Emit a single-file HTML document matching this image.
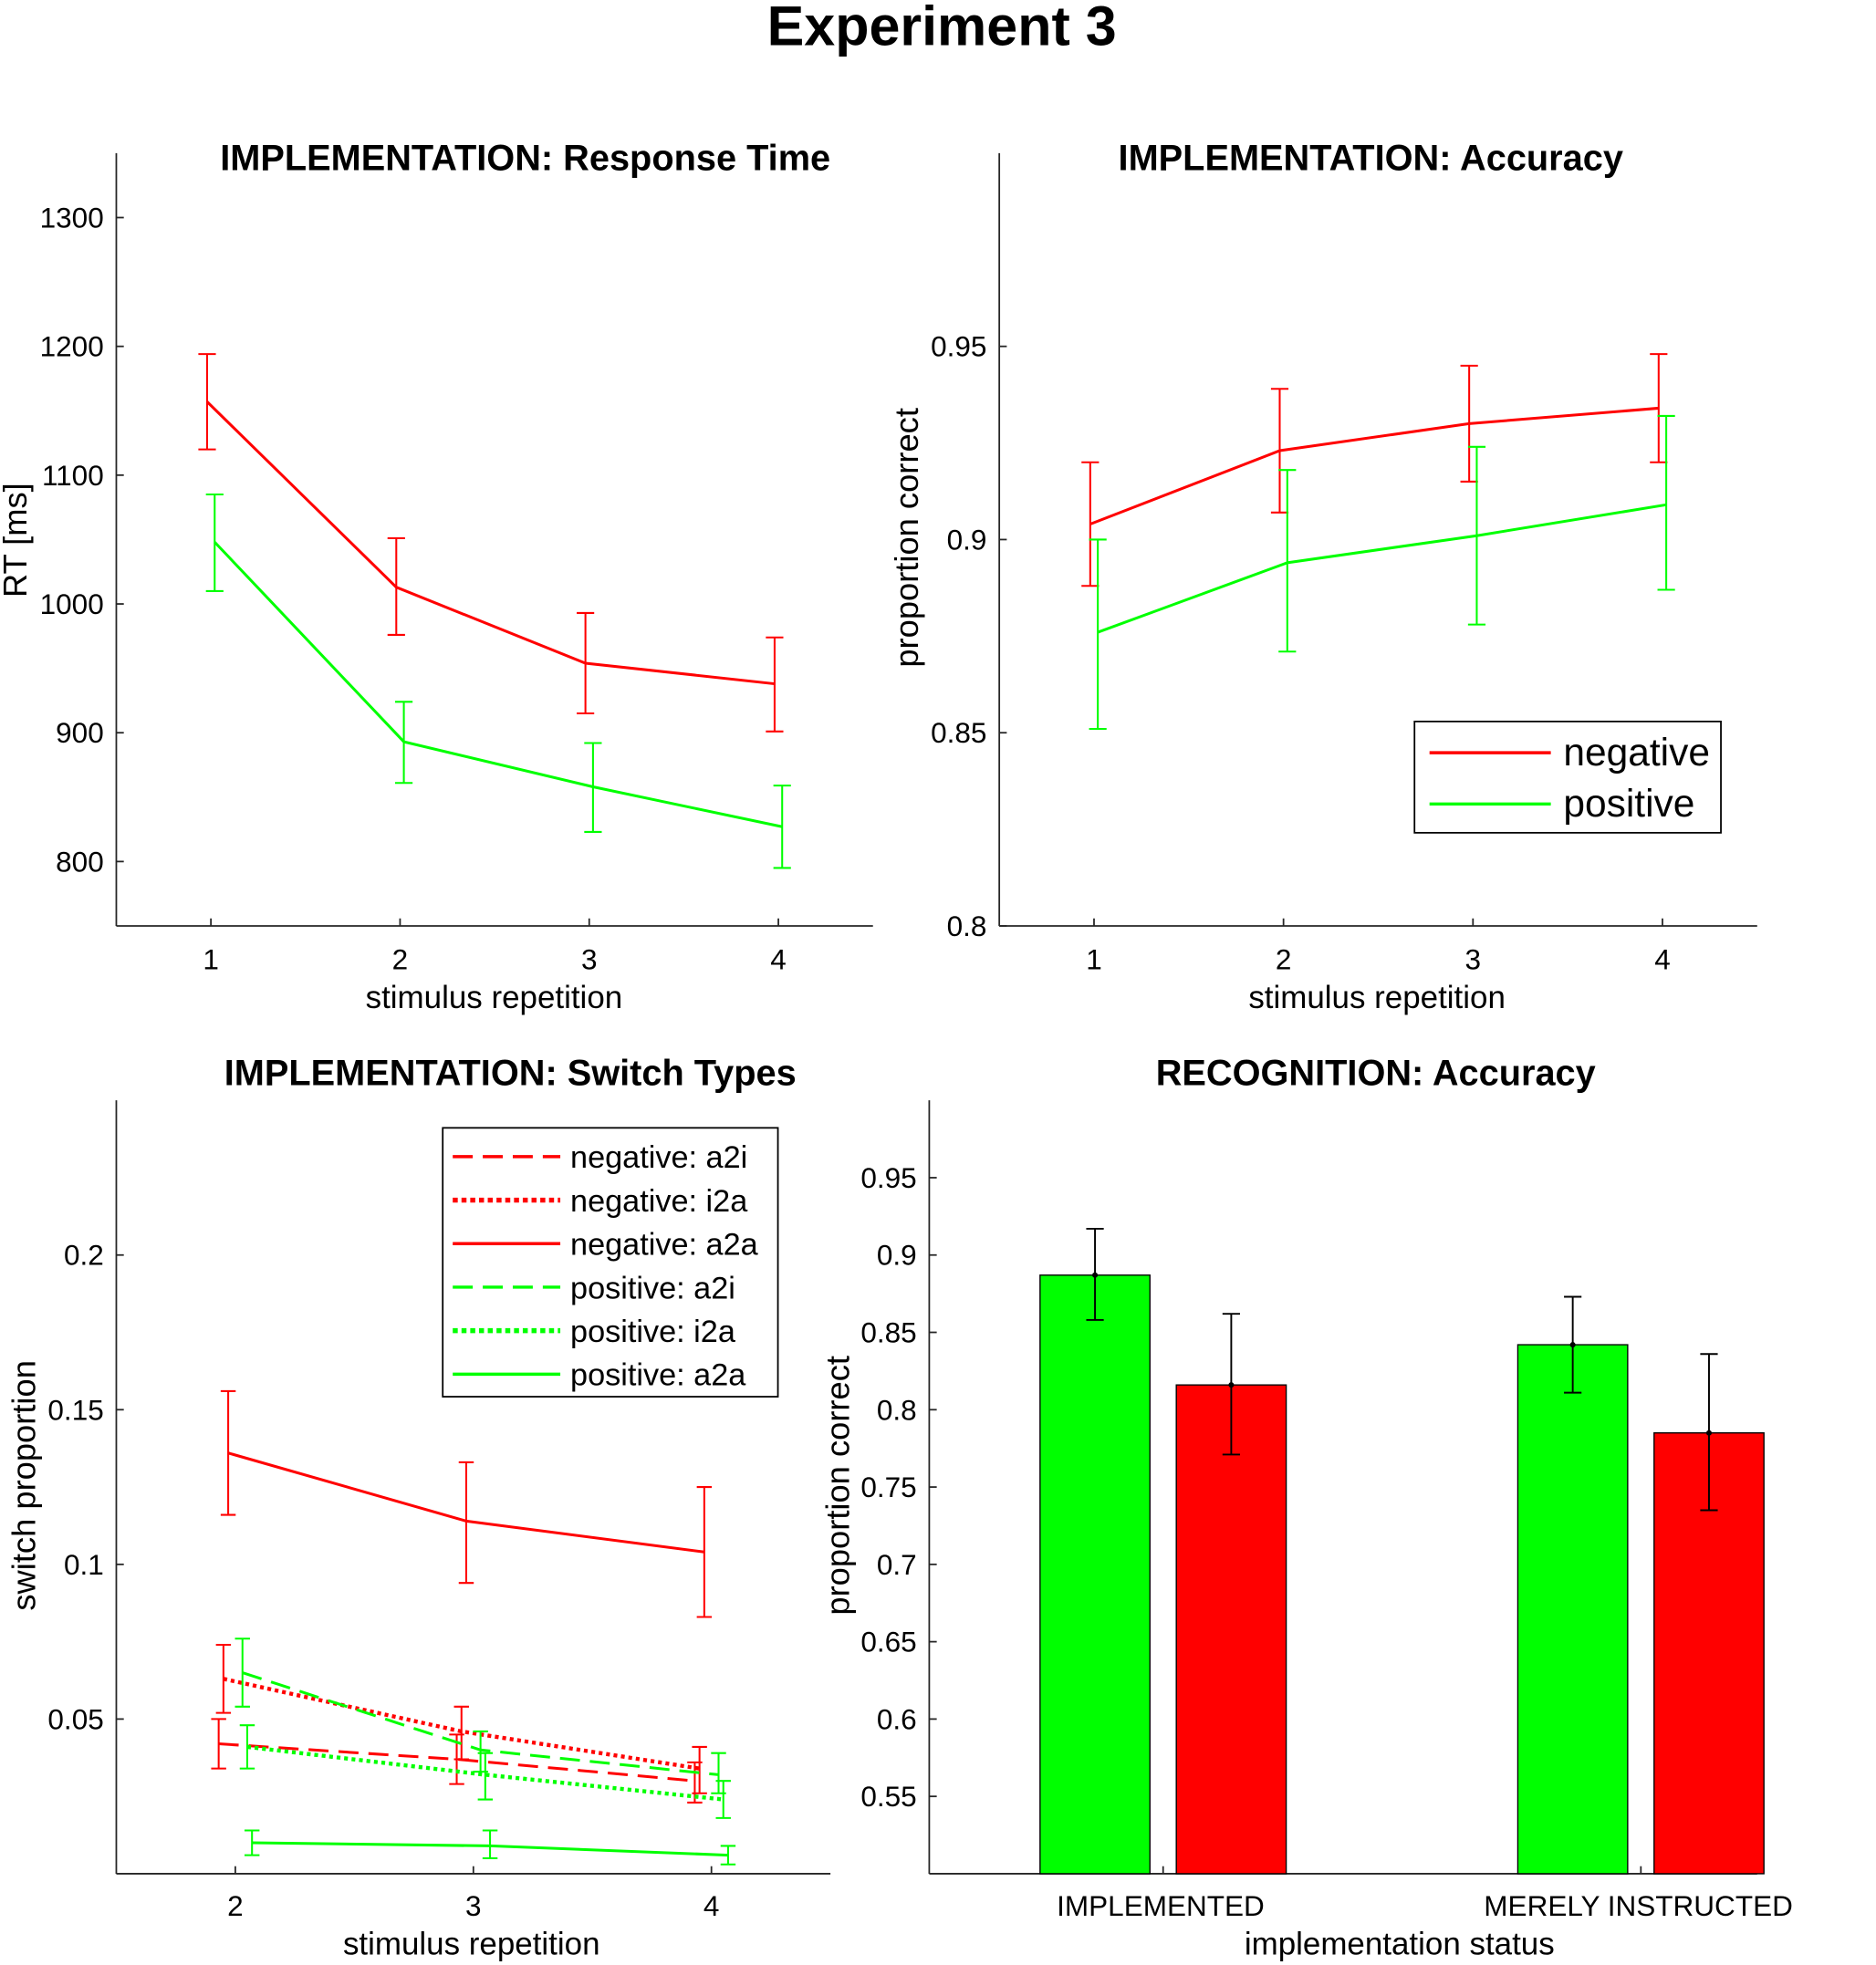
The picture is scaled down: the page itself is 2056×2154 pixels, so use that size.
<!DOCTYPE html>
<html><head><meta charset="utf-8"><style>html,body{margin:0;padding:0;background:#fff}svg{display:block}text{font-family:"Liberation Sans",Arial,sans-serif;fill:#000}</style></head>
<body>
<svg id="fig" width="2056" height="2154" viewBox="0 0 1500 1571.5" xmlns="http://www.w3.org/2000/svg">
<text x="753" y="36" font-size="44.5" font-weight="bold" text-anchor="middle">Experiment 3</text>
</svg>
<script>
// ---- Panel 1: RT ----
const rtCats = [1, 2, 3, 4];
const rtNeg = [1157, 1013, 954, 938];
const rtNegLo = [1120, 976, 915, 901];
const rtNegHi = [1194, 1051, 993, 974];
const rtPos = [1048, 893, 858, 827];
const rtPosLo = [1010, 861, 823, 795];
const rtPosHi = [1085, 924, 892, 859];
const rtTicks = [800, 900, 1000, 1100, 1200, 1300];
// ---- Panel 2: Accuracy ----
const accNeg = [0.904, 0.923, 0.930, 0.934];
const accNegLo = [0.888, 0.907, 0.915, 0.920];
const accNegHi = [0.920, 0.939, 0.945, 0.948];
const accPos = [0.876, 0.894, 0.901, 0.909];
const accPosLo = [0.851, 0.871, 0.878, 0.887];
const accPosHi = [0.900, 0.918, 0.924, 0.932];
const accTicks = [0.8, 0.85, 0.9, 0.95];
// ---- Panel 3: Switch types ----
const swCats = [2, 3, 4];
const swNames = ['negative: a2i', 'negative: i2a', 'negative: a2a', 'positive: a2i', 'positive: i2a', 'positive: a2a'];
const swNegA2i = [0.042, 0.037, 0.030];
const swNegA2iLo = [0.034, 0.029, 0.023];
const swNegA2iHi = [0.050, 0.045, 0.036];
const swNegI2a = [0.063, 0.046, 0.034];
const swNegI2aLo = [0.052, 0.037, 0.026];
const swNegI2aHi = [0.074, 0.054, 0.041];
const swNegA2a = [0.136, 0.114, 0.104];
const swNegA2aLo = [0.116, 0.094, 0.083];
const swNegA2aHi = [0.156, 0.133, 0.125];
const swPosA2i = [0.065, 0.040, 0.032];
const swPosA2iLo = [0.054, 0.033, 0.026];
const swPosA2iHi = [0.076, 0.046, 0.039];
const swPosI2a = [0.041, 0.032, 0.024];
const swPosI2aLo = [0.034, 0.024, 0.018];
const swPosI2aHi = [0.048, 0.039, 0.030];
const swPosA2a = [0.010, 0.009, 0.006];
const swPosA2aLo = [0.006, 0.005, 0.003];
const swPosA2aHi = [0.014, 0.014, 0.009];
const swTicks = [0.05, 0.1, 0.15, 0.2];
// ---- Panel 4: Recognition ----
const recCats = ['IMPLEMENTED', 'MERELY INSTRUCTED'];
const recPos = [0.887, 0.842];
const recPosLo = [0.858, 0.811];
const recPosHi = [0.917, 0.873];
const recNeg = [0.816, 0.785];
const recNegLo = [0.771, 0.735];
const recNegHi = [0.862, 0.836];
const recTicks = [0.55, 0.6, 0.65, 0.7, 0.75, 0.8, 0.85, 0.9, 0.95];

const svg = document.getElementById('fig');
const NS = 'http://www.w3.org/2000/svg';
const RED = '#ff0000', GREEN = '#00ff00';
const TFS = 29, LFS = 25.5, KFS = 23, YLFS = 26.5;
function mk(tag, attrs, parent) {
  const e = document.createElementNS(NS, tag);
  for (const k in attrs) e.setAttribute(k, attrs[k]);
  (parent || svg).appendChild(e);
  return e;
}
function txt(s, attrs) { const t = mk('text', attrs); t.textContent = s; return t; }
function lin(x1, y1, x2, y2, stroke, w) { return mk('line', {x1, y1, x2, y2, stroke, 'stroke-width': w}); }

function axes(L, R, T, B, name) {
  const a = lin(L, T, L, B, '#262626', 1.3);
  
  
  const b = lin(L, B, R, B, '#262626', 1.3);
  
  
}
function errbar(x, ylo, yhi, color, cap, w, name) {
  const g = mk('g', {});
  
  
  mk('line', {x1: x, y1: ylo, x2: x, y2: yhi, stroke: color, 'stroke-width': w}, g);
  mk('line', {x1: x - cap, y1: ylo, x2: x + cap, y2: ylo, stroke: color, 'stroke-width': w}, g);
  mk('line', {x1: x - cap, y1: yhi, x2: x + cap, y2: yhi, stroke: color, 'stroke-width': w}, g);
}
function series(xs, ys, color, dash, w, name) {
  const p = mk('polyline', {points: xs.map((x, i) => x + ',' + ys[i]).join(' '), fill: 'none', stroke: color, 'stroke-width': w, 'stroke-dasharray': dash || 'none'});
  
  
}

// ===== Panel 1 =====
{
  const L = 93, R = 698, T = 122.5, B = 740.5;
  const X = v => L + (v - 0.5) / 4 * (R - L);
  const Y = v => B - (v - 750) / 600 * (B - T);
  axes(L, R, T, B, 'rt');
  rtCats.forEach(c => {
    lin(X(c), B, X(c), B - 6, '#262626', 1.3);
    const t = txt(String(c), {x: X(c), y: 775, 'font-size': KFS, 'text-anchor': 'middle', fill: '#262626'});
    
    
  });
  rtTicks.forEach(v => {
    lin(L, Y(v), L + 6, Y(v), '#262626', 1.3);
    const t = txt(String(v), {x: 83, y: Y(v) + 8, 'font-size': KFS, 'text-anchor': 'end', fill: '#262626'});
    
    
  });
  const t1 = txt('IMPLEMENTATION: Response Time', {x: 420, y: 136, 'font-size': TFS, 'font-weight': 'bold', 'text-anchor': 'middle'});
  
  
  const xl = txt('stimulus repetition', {x: 395, y: 806, 'font-size': LFS, 'text-anchor': 'middle', fill: '#262626'});
  
  
  const yl = txt('RT [ms]', {x: 0, y: 0, 'font-size': YLFS, 'text-anchor': 'middle', fill: '#262626', transform: 'translate(21,432) rotate(-90)'});
  
  
  const xn = rtCats.map(c => X(c - 0.02)), xp = rtCats.map(c => X(c + 0.02));
  series(xn, rtNeg.map(Y), RED, null, 2.2, 'rt-line-negative');
  series(xp, rtPos.map(Y), GREEN, null, 2.2, 'rt-line-positive');
  rtCats.forEach((c, i) => {
    errbar(xn[i], Y(rtNegLo[i]), Y(rtNegHi[i]), RED, 7, 1.5, 'rt-errorbar-negative');
    errbar(xp[i], Y(rtPosLo[i]), Y(rtPosHi[i]), GREEN, 7, 1.5, 'rt-errorbar-positive');
  });
}

// ===== Panel 2 =====
{
  const L = 799, R = 1405, T = 122.5, B = 740.5;
  const X = v => L + (v - 0.5) / 4 * (R - L);
  const Y = v => B - (v - 0.8) / 0.2 * (B - T);
  axes(L, R, T, B, 'acc');
  rtCats.forEach(c => {
    lin(X(c), B, X(c), B - 6, '#262626', 1.3);
    const t = txt(String(c), {x: X(c), y: 775, 'font-size': KFS, 'text-anchor': 'middle', fill: '#262626'});
    
    
  });
  accTicks.forEach(v => {
    lin(L, Y(v), L + 6, Y(v), '#262626', 1.3);
    const t = txt(String(v), {x: 789, y: Y(v) + 8, 'font-size': KFS, 'text-anchor': 'end', fill: '#262626'});
    
    
  });
  const t1 = txt('IMPLEMENTATION: Accuracy', {x: 1096, y: 136, 'font-size': TFS, 'font-weight': 'bold', 'text-anchor': 'middle'});
  
  
  const xl = txt('stimulus repetition', {x: 1101, y: 806, 'font-size': LFS, 'text-anchor': 'middle', fill: '#262626'});
  
  
  const yl = txt('proportion correct', {x: 0, y: 0, 'font-size': YLFS, 'text-anchor': 'middle', fill: '#262626', transform: 'translate(734,430) rotate(-90)'});
  
  
  const xn = rtCats.map(c => X(c - 0.02)), xp = rtCats.map(c => X(c + 0.02));
  series(xn, accNeg.map(Y), RED, null, 2.2, 'acc-line-negative');
  series(xp, accPos.map(Y), GREEN, null, 2.2, 'acc-line-positive');
  rtCats.forEach((c, i) => {
    errbar(xn[i], Y(accNegLo[i]), Y(accNegHi[i]), RED, 7, 1.5, 'acc-errorbar-negative');
    errbar(xp[i], Y(accPosLo[i]), Y(accPosHi[i]), GREEN, 7, 1.5, 'acc-errorbar-positive');
  });
  const lg = mk('rect', {x: 1131, y: 577, width: 245, height: 89, fill: '#fff', stroke: '#000', 'stroke-width': 1.3});
  
  
  [['negative', RED, 602], ['positive', GREEN, 643]].forEach(([n, c, y]) => {
    lin(1143, y, 1240, y, c, 2.5);
    const t = txt(n, {x: 1250, y: y + 10, 'font-size': 31});
    
    
  });
}

// ===== Panel 3 =====
{
  const L = 93, R = 664, T = 880, B = 1498.5;
  const X = v => L + (v - 1.5) / 3 * (R - L);
  const Y = v => B - v / 0.25 * (B - T);
  axes(L, R, T, B, 'sw');
  swCats.forEach(c => {
    lin(X(c), B, X(c), B - 6, '#262626', 1.3);
    const t = txt(String(c), {x: X(c), y: 1532, 'font-size': KFS, 'text-anchor': 'middle', fill: '#262626'});
    
    
  });
  swTicks.forEach(v => {
    lin(L, Y(v), L + 6, Y(v), '#262626', 1.3);
    const t = txt(String(v), {x: 83, y: Y(v) + 8, 'font-size': KFS, 'text-anchor': 'end', fill: '#262626'});
    
    
  });
  const t1 = txt('IMPLEMENTATION: Switch Types', {x: 408, y: 868, 'font-size': TFS, 'font-weight': 'bold', 'text-anchor': 'middle'});
  
  
  const xl = txt('stimulus repetition', {x: 377, y: 1563, 'font-size': LFS, 'text-anchor': 'middle', fill: '#262626'});
  
  
  const yl = txt('switch proportion', {x: 0, y: 0, 'font-size': YLFS, 'text-anchor': 'middle', fill: '#262626', transform: 'translate(28,1188) rotate(-90)'});
  
  
  const defs = [
    [swNegA2i, swNegA2iLo, swNegA2iHi, RED, '16 8', -0.07, 'sw-line-negative-a2i'],
    [swNegI2a, swNegI2aLo, swNegI2aHi, RED, '3 3', -0.05, 'sw-line-negative-i2a'],
    [swNegA2a, swNegA2aLo, swNegA2aHi, RED, null, -0.03, 'sw-line-negative-a2a'],
    [swPosA2i, swPosA2iLo, swPosA2iHi, GREEN, '16 8', 0.03, 'sw-line-positive-a2i'],
    [swPosI2a, swPosI2aLo, swPosI2aHi, GREEN, '3 3', 0.05, 'sw-line-positive-i2a'],
    [swPosA2a, swPosA2aLo, swPosA2aHi, GREEN, null, 0.07, 'sw-line-positive-a2a']
  ];
  defs.forEach(([m, lo, hi, col, dash, off, name]) => {
    const xs = swCats.map(c => X(c + off));
    series(xs, m.map(Y), col, dash, dash === '3 3' ? 3.2 : 2.2, name);
    swCats.forEach((c, i) => errbar(xs[i], Y(lo[i]), Y(hi[i]), col, 6, 1.5, name.replace('line', 'errorbar')));
  });
  const lg = mk('rect', {x: 354, y: 902, width: 268, height: 215, fill: '#fff', stroke: '#000', 'stroke-width': 1.3});
  
  
  defs.forEach((d, i) => {
    const y = 925 + i * 34.8;
    mk('line', {x1: 362, y1: y, x2: 448, y2: y, stroke: d[3], 'stroke-width': d[4] === '3 3' ? 4 : 2.5, 'stroke-dasharray': d[4] === '3 3' ? '4 3' : (d[4] || 'none')});
    const t = txt(swNames[i], {x: 456, y: y + 9, 'font-size': 25});
    
    
  });
}

// ===== Panel 4 =====
{
  const L = 743, R = 1405, T = 880, B = 1498.5;
  const X = v => 930 + (v - 1) * 382;
  const Y = v => B - (v - 0.5) / 0.5 * (B - T);
  axes(L, R, T, B, 'rec');
  const bw = 0.23, off = 0.1426;
  recCats.forEach((c, i) => {
    [[recPos, recPosLo, recPosHi, GREEN, -off, 'rec-bar-positive'], [recNeg, recNegLo, recNegHi, RED, off, 'rec-bar-negative']].forEach(([m, lo, hi, col, o, name]) => {
      const x0 = X(i + 1 + o - bw / 2), x1 = X(i + 1 + o + bw / 2);
      const r = mk('rect', {x: x0, y: Y(m[i]), width: x1 - x0, height: B - Y(m[i]), fill: col, stroke: '#000', 'stroke-width': 1});
      
      
      const xc = X(i + 1 + o);
      errbar(xc, Y(lo[i]), Y(hi[i]), '#000', 7, 1.4, name.replace('bar', 'errorbar'));
      mk('circle', {cx: xc, cy: Y(m[i]), r: 2.2, fill: '#000'});
    });
    lin(X(i + 1), B, X(i + 1), B - 6, '#262626', 1.3);
    const t = txt(c, {x: X(i + 1) - 2, y: 1532, 'font-size': KFS, 'text-anchor': 'middle', fill: '#262626'});
    
    
  });
  recTicks.forEach(v => {
    lin(L, Y(v), L + 6, Y(v), '#262626', 1.3);
    const t = txt(String(v), {x: 733, y: Y(v) + 8, 'font-size': KFS, 'text-anchor': 'end', fill: '#262626'});
    
    
  });
  const t1 = txt('RECOGNITION: Accuracy', {x: 1100, y: 868, 'font-size': TFS, 'font-weight': 'bold', 'text-anchor': 'middle'});
  
  
  const xl = txt('implementation status', {x: 1119, y: 1563, 'font-size': LFS, 'text-anchor': 'middle', fill: '#262626'});
  
  
  const yl = txt('proportion correct', {x: 0, y: 0, 'font-size': YLFS, 'text-anchor': 'middle', fill: '#262626', transform: 'translate(679,1188) rotate(-90)'});
  
  
}
</script>
</body></html>
